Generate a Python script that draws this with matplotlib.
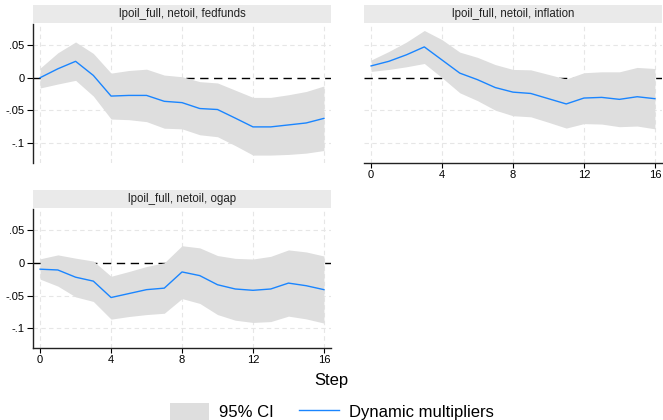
import matplotlib
matplotlib.use('Agg')
import matplotlib.pyplot as plt
from matplotlib.patches import Rectangle, Patch
from matplotlib.lines import Line2D

plt.rcParams['font.family'] = ['Liberation Sans', 'DejaVu Sans']

steps = list(range(17))

titles = ['lpoil_full, netoil, fedfunds',
          'lpoil_full, netoil, inflation',
          'lpoil_full, netoil, ogap']

fedfunds_irf = [0.0, 0.0136, 0.025, 0.0035, -0.028, -0.027, -0.027, -0.036, -0.038,
                -0.047, -0.0485, -0.0616, -0.075, -0.075, -0.072, -0.069, -0.062]
fedfunds_hi = [0.0146, 0.038, 0.0545, 0.037, 0.007, 0.011, 0.013, 0.004, 0.0015,
               -0.006, -0.008, -0.019, -0.030, -0.030, -0.026, -0.021, -0.0126]
fedfunds_lo = [-0.0157, -0.0096, -0.004, -0.028, -0.063, -0.064, -0.067, -0.077, -0.078,
               -0.087, -0.090, -0.1035, -0.118, -0.118, -0.117, -0.115, -0.111]

inflation_irf = [0.018, 0.025, 0.035, 0.047, 0.027, 0.007, -0.003, -0.015, -0.022,
                 -0.024, -0.032, -0.040, -0.031, -0.030, -0.033, -0.029, -0.032]
inflation_hi = [0.027, 0.040, 0.0545, 0.072, 0.058, 0.039, 0.031, 0.020, 0.0126,
                0.012, 0.005, -0.002, 0.0076, 0.009, 0.009, 0.0157, 0.014]
inflation_lo = [0.0096, 0.0126, 0.0167, 0.0217, 0.0, -0.023, -0.035, -0.0495, -0.058,
                -0.0596, -0.068, -0.0768, -0.070, -0.0707, -0.0747, -0.0737, -0.078]

ogap_irf = [-0.0098, -0.011, -0.022, -0.028, -0.053, -0.047, -0.041, -0.0387, -0.014,
            -0.0196, -0.0335, -0.040, -0.042, -0.040, -0.031, -0.035, -0.041]
ogap_hi = [0.006, 0.012, 0.007, 0.0026, -0.0206, -0.0134, -0.0057, 0.0, 0.026,
           0.0227, 0.011, 0.0067, 0.0057, 0.0098, 0.0196, 0.0165, 0.0103]
ogap_lo = [-0.025, -0.0356, -0.052, -0.059, -0.086, -0.082, -0.079, -0.077, -0.0546,
           -0.062, -0.079, -0.0876, -0.091, -0.0897, -0.0814, -0.0856, -0.092]

yticks = [0.05, 0, -0.05, -0.1]
ytick_labels = ['.05', '0', '-.05', '-.1']
xticks = [0, 4, 8, 12, 16]

band_color = '#dedede'
line_color = '#1a85ff'
strip_color = '#eaeaea'
grid_color = '#e6e6e6'


def panel(fig, rect, title, irf, lo, hi, show_y, show_x):
    ax = fig.add_axes(rect)
    ax.set_xlim(-0.4, 16.4)
    ax.set_ylim(-0.13, 0.082)
    for x in xticks:
        ax.axvline(x, color=grid_color, lw=0.8, ls=(0, (4, 3)), zorder=0)
    for y in yticks:
        if y != 0:
            ax.axhline(y, color=grid_color, lw=0.8, ls=(0, (4, 3)), zorder=0)
    ax.axhline(0, color='black', lw=1.0, ls=(0, (6, 4)), zorder=1)
    ax.fill_between(steps, lo, hi, color=band_color, lw=0, zorder=2)
    ax.plot(steps, irf, color=line_color, lw=1.0, zorder=3)

    for s in ['top', 'right']:
        ax.spines[s].set_visible(False)
    ax.spines['left'].set_visible(show_y)
    ax.spines['bottom'].set_visible(show_x)
    for s in ['left', 'bottom']:
        ax.spines[s].set_color('#222222')
        ax.spines[s].set_linewidth(1.0)

    ax.set_yticks(yticks)
    if show_y:
        ax.set_yticklabels(ytick_labels, fontsize=8)
        ax.tick_params(axis='y', length=4, width=0.8, pad=2)
    else:
        ax.tick_params(axis='y', left=False, labelleft=False)
    ax.set_xticks(xticks)
    if show_x:
        ax.set_xticklabels([str(x) for x in xticks], fontsize=8)
        ax.tick_params(axis='x', length=3.5, width=0.8, pad=1.5)
    else:
        ax.tick_params(axis='x', bottom=False, labelbottom=False)
    ax.set_facecolor('white')

    ax.add_patch(Rectangle((0, 1.007), 1, 0.13, transform=ax.transAxes,
                           facecolor=strip_color, edgecolor='none', clip_on=False))
    ax.text(0.5, 1.072, title, transform=ax.transAxes, ha='center', va='center',
            fontsize=8.3, color='#222222')
    return ax


def main():
    fig = plt.figure(figsize=(6.63, 4.2), dpi=100)

    panel(fig, [0.0498, 0.612, 0.4495, 0.331], titles[0],
          fedfunds_irf, fedfunds_lo, fedfunds_hi, True, False)
    panel(fig, [0.549, 0.612, 0.4495, 0.331], titles[1],
          inflation_irf, inflation_lo, inflation_hi, False, True)
    panel(fig, [0.0498, 0.1714, 0.4495, 0.331], titles[2],
          ogap_irf, ogap_lo, ogap_hi, True, True)

    fig.text(0.5, 0.095, 'Step', ha='center', va='center', fontsize=12)

    handles = [Patch(facecolor=band_color, edgecolor='none'),
               Line2D([], [], color=line_color, lw=1.0)]
    fig.legend(handles, ['95% CI', 'Dynamic multipliers'], loc='center',
               bbox_to_anchor=(0.5, 0.02), ncol=2, frameon=False, fontsize=12,
               handlelength=2.35, handleheight=1.3, columnspacing=1.55,
               handletextpad=0.6)

    fig.savefig('out.png', dpi=100)


if __name__ == "__main__":
    main()
